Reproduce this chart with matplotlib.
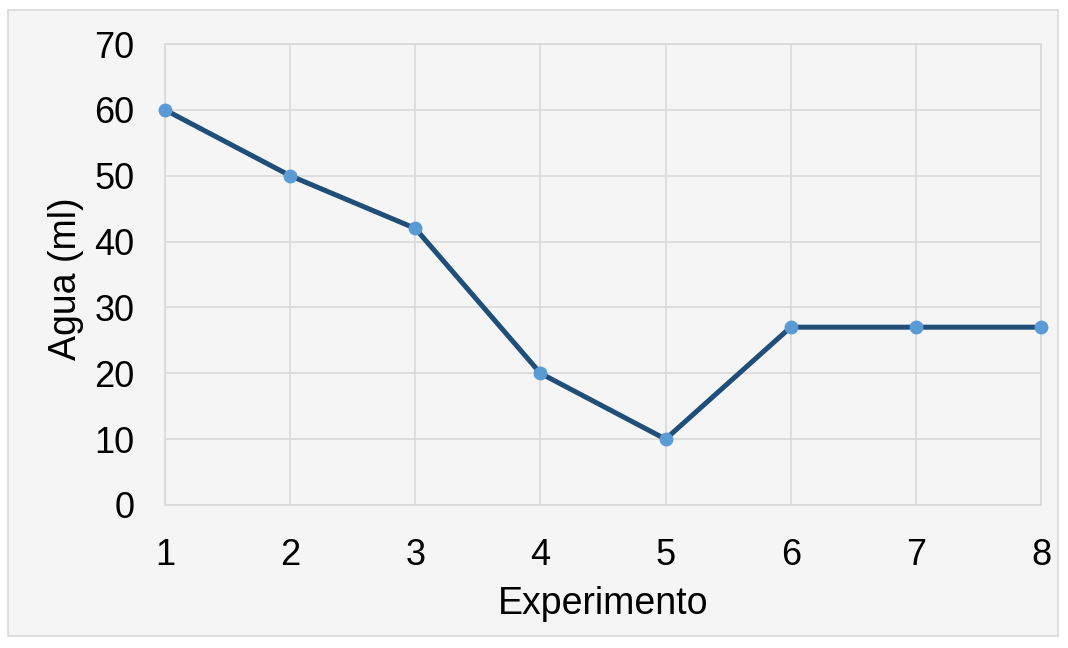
import matplotlib
matplotlib.use("Agg")
import matplotlib.pyplot as plt
from matplotlib.patches import Rectangle

experimento = [1, 2, 3, 4, 5, 6, 7, 8]
agua_ml = [60, 50, 42, 20, 10, 27, 27, 27]
y_ticks = [0, 10, 20, 30, 40, 50, 60, 70]

plt.rcParams["font.family"] = ["Liberation Sans", "DejaVu Sans"]

W, H = 1068, 648
fig = plt.figure(figsize=(W / 100, H / 100), dpi=100)
fig.patch.set_facecolor("white")

# light gray chart-area panel with thin border, kept behind the axes
panel = Rectangle((8 / W, 1 - 636 / H), 1050 / W, 626 / H,
                  transform=fig.transFigure, facecolor="#f5f5f5",
                  edgecolor="#d9d9d9", linewidth=1.2, zorder=-10)
fig.add_artist(panel)

ax = fig.add_axes([165 / W, 1 - 505 / H, 876 / W, 461 / H])
ax.set_zorder(1)
ax.set_facecolor("none")
ax.plot(experimento, agua_ml, color="#1f4e79", linewidth=3.6, zorder=3,
        marker="o", markersize=9, markerfacecolor="#5b9bd5",
        markeredgecolor="#5b9bd5", clip_on=False)

ax.set_xlim(1, 8)
ax.set_ylim(0, 70)
ax.set_xticks(experimento)
ax.set_yticks(y_ticks)
ax.grid(True, color="#d9d9d9", linewidth=1.2)
ax.set_axisbelow(True)
for s in ax.spines.values():
    s.set_color("#d9d9d9")
    s.set_linewidth(1.2)
ax.tick_params(axis="y", length=0, labelsize=26, pad=22)
ax.tick_params(axis="x", length=0, labelsize=26, pad=24)
ax.set_xlabel("Experimento", fontsize=27, labelpad=9)
ax.set_ylabel("Agua (ml)", fontsize=27)
ax.yaxis.set_label_coords(-0.093, 0.49)

fig.savefig("out.png", dpi=100)
